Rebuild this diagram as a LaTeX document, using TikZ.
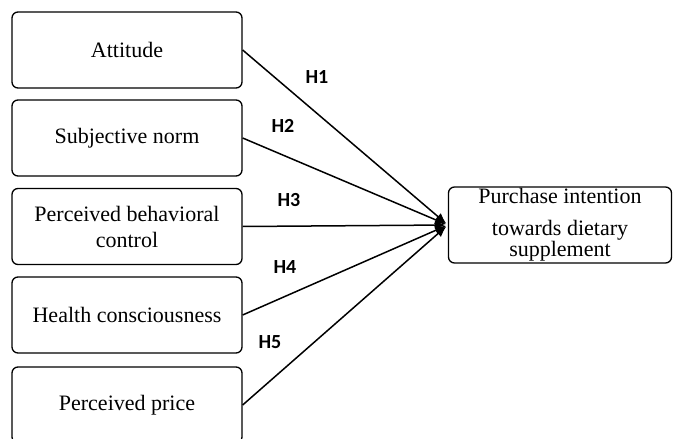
\documentclass[tikz,border=0pt]{standalone}
\usepackage{fontspec}
\setmainfont{Liberation Serif}
\newfontfamily\hfont{Carlito}
\usetikzlibrary{arrows.meta}

\tikzset{
  factor/.style={draw=black, line width=1.3pt, rounded corners=6pt, minimum width=230pt,
    minimum height=76pt, inner sep=0pt, align=center, font=\fontsize{22}{26}\selectfont},
  hyp/.style={font=\hfont\bfseries\fontsize{20}{22}\selectfont},
  path/.style={line width=1.5pt, -{Latex[length=11pt,width=9pt]}, shorten >=2pt}
}

\begin{document}
\begin{tikzpicture}[x=1pt, y=-1pt]
    \useasboundingbox (0,0) rectangle (673,439);

    \node[factor] (att) at (127,50) {Attitude};
    \node[factor] (sn) at (127,138) {Subjective norm};
    \node[factor] (pbc) at (127,226.5) {Perceived behavioral\\control};
    \node[factor] (hc) at (127,315) {Health consciousness};
    \node[factor] (pp) at (127,405) {Perceived price};

    \node[factor, minimum width=223pt] (pi) at (560,225) {Purchase intention\\[6pt]towards dietary\\[-5pt]supplement};

    \draw[path] (att.east) -- (pi.west);
    \draw[path] (sn.east) -- (pi.west);
    \draw[path] (pbc.east) -- (pi.west);
    \draw[path] (hc.east) -- (pi.west);
    \draw[path] (pp.east) -- (pi.west);

    \node[hyp] (h1) at (317,77) {H1};
    \node[hyp] (h2) at (283,126) {H2};
    \node[hyp] (h3) at (289,200) {H3};
    \node[hyp] (h4) at (285,267) {H4};
    \node[hyp] (h5) at (270,342) {H5};
\end{tikzpicture}
\end{document}
